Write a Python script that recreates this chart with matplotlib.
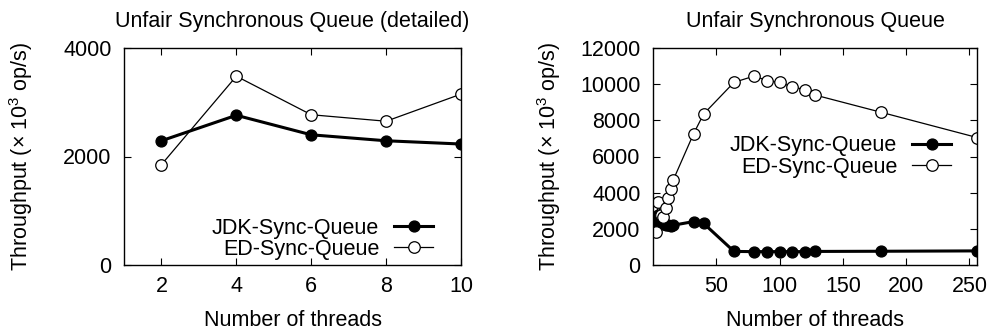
import matplotlib
matplotlib.use('Agg')
import matplotlib.pyplot as plt

plt.rcParams['font.family'] = ['Liberation Sans', 'DejaVu Sans']
plt.rcParams['mathtext.default'] = 'regular'
plt.rcParams['font.size'] = 15.5

# detailed view (2..10 threads)
threads_small = [2, 4, 6, 8, 10]
jdk_small = [2290, 2760, 2400, 2290, 2230]
ed_small = [1850, 3480, 2770, 2650, 3150]

# full range
threads = [2, 4, 6, 8, 10, 12, 14, 16, 32, 40, 64, 80, 90, 100, 110, 120, 128, 180, 256]
jdk = [2290, 2760, 2400, 2290, 2230, 2200, 2150, 2200, 2400, 2300,
       750, 740, 740, 740, 740, 740, 750, 760, 780]
ed = [1850, 3480, 2770, 2650, 3150, 3700, 4200, 4700, 7250, 8350,
      10100, 10450, 10200, 10100, 9850, 9700, 9400, 8450, 7050]

W, H = 991, 333
fig = plt.figure(figsize=(W / 100, H / 100), dpi=100)
ax1 = fig.add_axes([124 / W, 68 / H, 337 / W, 217 / H])
ax2 = fig.add_axes([653 / W, 68 / H, 324 / W, 217 / H])


def draw(ax, x, y1, y2):
    ax.plot(x, y1, color='black', lw=2.2, marker='o', ms=7.8,
            mfc='black', mec='black', label='JDK-Sync-Queue')
    ax.plot(x, y2, color='black', lw=0.9, marker='o', ms=8.3,
            mfc='white', mec='black', mew=0.9, label='ED-Sync-Queue')
    ax.tick_params(direction='in', top=True, right=True, length=5, width=0.8)
    ax.tick_params(axis='x', pad=8)
    ax.tick_params(axis='y', pad=9)
    for s in ax.spines.values():
        s.set_linewidth(1.0)
    ax.set_xlabel('Number of threads', labelpad=9)
    ax.set_ylabel(r'Throughput ($\times$ $10^3$ op/s)')


def legend(ax, anchor):
    ax.legend(loc='center right', frameon=False, markerfirst=False,
              handlelength=1.8, handletextpad=0.7, labelspacing=0.0,
              borderpad=0, borderaxespad=0, bbox_to_anchor=anchor)


draw(ax1, threads_small, jdk_small, ed_small)
ax1.set_xlim(1, 10)
ax1.set_ylim(0, 4000)
ax1.set_xticks([2, 4, 6, 8, 10])
ax1.set_yticks([0, 2000, 4000])
ax1.set_title('Unfair Synchronous Queue (detailed)', fontsize=15.5, pad=15)
legend(ax1, (0.917, 0.12))
ax1.yaxis.labelpad = 20

draw(ax2, threads, jdk, ed)
ax2.set_xlim(0, 256)
ax2.set_ylim(0, 12000)
ax2.set_xticks([50, 100, 150, 200, 250])
ax2.set_yticks(range(0, 12001, 2000))
ax2.set_title('Unfair Synchronous Queue', fontsize=15.5, pad=15)
legend(ax2, (0.92, 0.5))
ax2.yaxis.labelpad = 12

fig.savefig('out.png', dpi=100)
